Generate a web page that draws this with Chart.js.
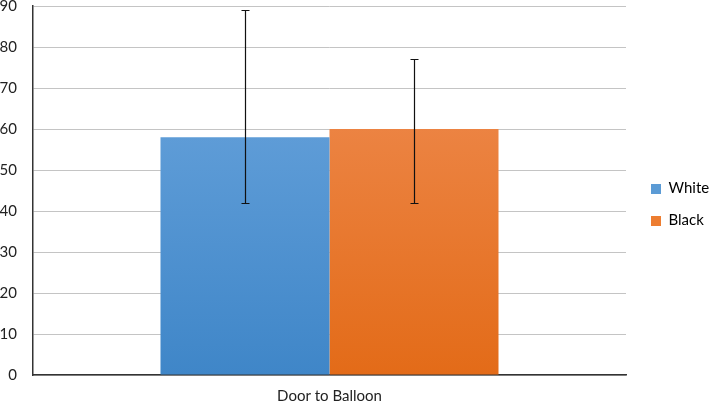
<!DOCTYPE html>
<html>
<head>
<meta charset="utf-8">
<script src="https://cdn.jsdelivr.net/npm/chart.js@4.4.1/dist/chart.umd.min.js"></script>
<style>
  html, body { margin: 0; padding: 0; background: #fff; }
  #wrap { width: 709px; height: 403px; position: relative; }
</style>
</head>
<body>
<div id="wrap"><canvas id="c"></canvas></div>
<script>
const categories = ["Door to Balloon"];
const seriesNames = ["White", "Black"];
const whiteValues = [58];
const blackValues = [60];
const whiteErrLow = [42];
const whiteErrHigh = [89];
const blackErrLow = [42];
const blackErrHigh = [77];
const yTicks = [0, 10, 20, 30, 40, 50, 60, 70, 80, 90];

const FONT = "Lato, 'Open Sans', sans-serif";

function grad(ctx, top, bottom) {
  const chart = ctx.chart;
  const area = chart.chartArea;
  if (!area) return bottom;
  const g = chart.ctx.createLinearGradient(0, area.top, 0, area.bottom);
  g.addColorStop(0, top);
  g.addColorStop(1, bottom);
  return g;
}

// legend marker: square at the right end of a wider transparent box
function legendMarker(color) {
  const c = document.createElement('canvas');
  c.width = 18; c.height = 10;
  const g = c.getContext('2d');
  g.fillStyle = color;
  g.fillRect(8, 0, 10, 10);
  return c;
}

const errorBarPlugin = {
  id: 'errorBars',
  afterDatasetsDraw(chart) {
    const ctx = chart.ctx;
    const y = chart.scales.y;
    chart.data.datasets.forEach((ds, di) => {
      const meta = chart.getDatasetMeta(di);
      meta.data.forEach((bar, i) => {
        const lo = Math.round(y.getPixelForValue(ds.errLow[i])) + 0.5;
        const hi = Math.round(y.getPixelForValue(ds.errHigh[i])) + 0.5;
        const x = Math.round(bar.x) + 0.5;
        ctx.save();
        ctx.strokeStyle = '#111';
        ctx.lineWidth = 1.2;
        ctx.beginPath();
        ctx.moveTo(x, lo); ctx.lineTo(x, hi);
        ctx.moveTo(x - 4, lo); ctx.lineTo(x + 4, lo);
        ctx.moveTo(x - 4, hi); ctx.lineTo(x + 4, hi);
        ctx.stroke();
        ctx.restore();
      });
    });
  }
};

new Chart(document.getElementById('c'), {
  type: 'bar',
  data: {
    labels: categories,
    datasets: [
      {
        label: seriesNames[0],
        data: whiteValues,
        errLow: whiteErrLow,
        errHigh: whiteErrHigh,
        backgroundColor: (ctx) => grad(ctx, '#6fa8df', '#3f86c8'),
        legendColor: '#5b9bd5'
      },
      {
        label: seriesNames[1],
        data: blackValues,
        errLow: blackErrLow,
        errHigh: blackErrHigh,
        backgroundColor: (ctx) => grad(ctx, '#f08f57', '#e36b18'),
        legendColor: '#ed7d31'
      }
    ]
  },
  options: {
    responsive: true,
    maintainAspectRatio: false,
    animation: false,
    devicePixelRatio: 1,
    layout: { autoPadding: false, padding: { left: 0, right: 0, top: 6, bottom: 0 } },
    datasets: { bar: { categoryPercentage: 0.57, barPercentage: 1.0 } },
    plugins: {
      tooltip: { enabled: false },
      legend: {
        position: 'right',
        maxWidth: 83,
        labels: {
          usePointStyle: true,
          pointStyleWidth: 18,
          boxHeight: 10,
          padding: 17,
          color: '#222',
          font: { family: FONT, size: 15 },
          generateLabels(chart) {
            return chart.data.datasets.map((ds, i) => ({
              text: ds.label,
              fillStyle: ds.legendColor,
              strokeStyle: ds.legendColor,
              pointStyle: legendMarker(ds.legendColor),
              lineWidth: 0,
              datasetIndex: i,
              hidden: false
            }));
          }
        }
      }
    },
    scales: {
      x: {
        afterFit(scale) { scale.height = 28; scale.paddingLeft = 0; scale.paddingRight = 0; },
        grid: { display: false, drawTicks: false },
        border: { display: true, color: '#333', width: 1.5 },
        ticks: { color: '#222', font: { family: FONT, size: 15 }, padding: 12 }
      },
      y: {
        min: 0,
        max: 90,
        afterBuildTicks(scale) { scale.ticks = yTicks.map(v => ({ value: v })); },
        afterFit(scale) { scale.width = 33; scale.paddingTop = 0; scale.paddingBottom = 0; },
        grid: { color: '#c4c4c4', lineWidth: 1, drawTicks: false },
        border: { display: true, color: '#333', width: 1.5 },
        ticks: { color: '#222', font: { family: FONT, size: 15 }, padding: 16 }
      }
    }
  },
  plugins: [errorBarPlugin]
});
</script>
</body>
</html>
